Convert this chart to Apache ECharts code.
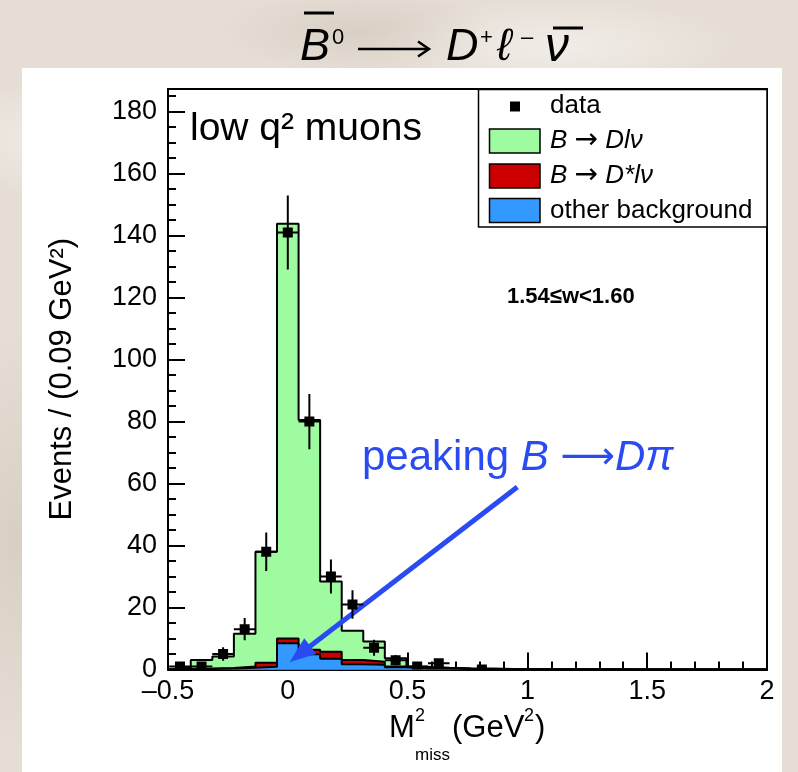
<!DOCTYPE html>
<html>
<head>
<meta charset="utf-8">
<script src="https://cdn.jsdelivr.net/npm/echarts@6/dist/echarts.min.js"></script>
<style>
  html, body { margin: 0; padding: 0; width: 798px; height: 772px; overflow: hidden; }
  body {
    position: relative;
    background:
      radial-gradient(ellipse 220px 90px at 12% 18%, rgba(255,255,255,0.55), rgba(255,255,255,0) 70%),
      radial-gradient(ellipse 260px 70px at 70% 6%, rgba(255,255,255,0.45), rgba(255,255,255,0) 70%),
      radial-gradient(ellipse 120px 300px at 2% 70%, rgba(190,178,165,0.35), rgba(190,178,165,0) 70%),
      radial-gradient(ellipse 200px 60px at 45% 4%, rgba(185,172,160,0.3), rgba(185,172,160,0) 70%),
      #e6ded5;
  }
  #panel { position: absolute; left: 22px; top: 68px; width: 760px; height: 704px; background: #ffffff; }
  #chart { position: absolute; left: 0; top: 0; width: 798px; height: 772px; }
</style>
</head>
<body>
<div id="panel"></div>
<div id="chart"></div>
<script>
// Histogram bins of M_miss^2 (GeV^2), width 0.09
const binCenters = [-0.45, -0.36, -0.27, -0.18, -0.09, 0.00, 0.09, 0.18, 0.27, 0.36,
                    0.45, 0.54, 0.63, 0.72, 0.81, 0.90, 0.99, 1.08, 1.17, 1.26,
                    1.35, 1.44, 1.53, 1.62, 1.71, 1.80, 1.89, 1.98];
const binWidth = 0.09;

// Observed events and their uncertainties (null = no entry drawn)
const dataCounts = [1, 1, 5, 13, 38, 141, 80, 30, 21, 7,
                    3, 1, 2, null, 0, null, null, null, null, null,
                    null, null, null, null, null, null, null, null];
const dataErrors = [1, 1, 2.2, 3.6, 6.2, 11.9, 8.9, 5.5, 4.6, 2.6,
                    1.7, 1, 1.4, null, 0, null, null, null, null, null,
                    null, null, null, null, null, null, null, null];

// Fitted components (stacked)
const sigDlnu   = [0.4, 2.8, 3.7, 10.5, 35.8, 133.8, 74.1, 22.7, 9.4, 6.5,
                   2.6, 0.4, 0.2, 0.2, 0.2, 0.15, 0.1, 0.1, 0.05, 0.05,
                   0.05, 0, 0, 0, 0, 0, 0, 0];
const bkgDstar  = [0.1, 0.1, 0.2, 0.4, 1.3, 1.5, 1.5, 2.2, 1.4, 1.0,
                   0.3, 0.2, 0.1, 0.05, 0.05, 0, 0, 0, 0, 0,
                   0, 0, 0, 0, 0, 0, 0, 0];
const bkgOther  = [0.1, 0.2, 0.3, 0.6, 0.9, 8.5, 4.9, 3.5, 1.7, 1.5,
                   0.7, 0.3, 0.3, 0.15, 0.1, 0.05, 0.05, 0, 0, 0,
                   0, 0, 0, 0, 0, 0, 0, 0];

// Axis ranges and ticks
const xRange = [-0.5, 2];
const xTickStep = 0.5;
const yRange = [0, 187.3];
const yTickStep = 20;
const yMinorStep = 5;

// Annotation arrow (data coordinates): tail and head
const arrowFrom = [0.958, 58.9];
const arrowTo = [0.051, 5.0];

const C_GREEN = '#9ffb9f', C_RED = '#cc0000', C_BLUE = '#3399ff', C_NOTE = '#2a4bf2';
const FONT = '"Liberation Sans", Arial, Helvetica, sans-serif';
const ARROW_FONT = '"DejaVu Sans", sans-serif';

const redTop = bkgOther.map((v, i) => v + bkgDstar[i]);
const total = redTop.map((v, i) => v + sigDlnu[i]);

// Step outline of a histogram: points at the left edge of each bin, closed to zero
function stepPoints(values) {
  const first = binCenters[0] - binWidth / 2;
  const last = binCenters[binCenters.length - 1] + binWidth / 2;
  const pts = [[first, 0]];
  values.forEach((v, i) => pts.push([binCenters[i] - binWidth / 2, v]));
  pts.push([last, values[values.length - 1]]);
  pts.push([last, 0]);
  return pts;
}

function histSeries(name, values, color, z) {
  return {
    name, type: 'line', step: 'end', data: stepPoints(values),
    symbol: 'none', silent: true, clip: true, z,
    lineStyle: { color: '#000', width: 2 },
    areaStyle: { color, opacity: 1 },
    animation: false
  };
}

const points = [];
binCenters.forEach((c, i) => {
  if (dataCounts[i] !== null) points.push([c, dataCounts[i], dataErrors[i]]);
});

const chart = echarts.init(document.getElementById('chart'), null, { renderer: 'canvas' });

function txt(text, x, y, size, style) {
  return {
    type: 'text', x, y, z: 100,
    style: Object.assign({ text, fontSize: size, fontFamily: FONT, fill: '#000',
      align: 'left', verticalAlign: 'middle' }, style || {})
  };
}

const legendRows = [
  { label: '{i|B }{a|→}{i| Dlν}', color: C_GREEN, y: 141 },
  { label: '{i|B }{a|→}{i| D*lν}', color: C_RED, y: 176 },
  { label: '{n|other background}', color: C_BLUE, y: 210.5 }
];
const richLegend = {
  i: { fontSize: 26, fontFamily: FONT, fontStyle: 'italic', fill: '#000' },
  n: { fontSize: 26, fontFamily: FONT, fill: '#000' },
  a: { fontSize: 28, fontFamily: ARROW_FONT, fill: '#000' }
};

const graphics = [
  // Title: B-bar0 -> D+ l- nu-bar
  { type: 'line', z: 100, shape: { x1: 304, y1: 13, x2: 334, y2: 13 }, style: { stroke: '#000', lineWidth: 3 } },
  txt('B', 300, 47.5, 45, { fontStyle: 'italic' }),
  txt('0', 332, 38, 22),
  { type: 'line', z: 100, shape: { x1: 358, y1: 49, x2: 428, y2: 49 }, style: { stroke: '#000', lineWidth: 2.5 } },
  { type: 'polyline', z: 100, shape: { points: [[418, 41.5], [429, 49], [418, 56.5]] }, style: { stroke: '#000', lineWidth: 2.5, fill: null } },
  txt('D', 446, 47.5, 45, { fontStyle: 'italic' }),
  txt('+', 480, 38, 22),
  txt('ℓ', 497, 47.5, 45, { fontStyle: 'italic' }),
  txt('–', 521, 38, 22),
  txt('ν', 545, 47.5, 48, { fontStyle: 'italic' }),
  { type: 'line', z: 100, shape: { x1: 553, y1: 28, x2: 583, y2: 28 }, style: { stroke: '#000', lineWidth: 3 } },

  // Plot labels
  txt('low q² muons', 190, 129.5, 39),
  txt('1.54≤w<1.60', 507, 296.5, 22, { fontWeight: 'bold' }),
  {
    type: 'text', x: 362, y: 458, z: 100,
    style: {
      text: '{n|peaking }{i|B }{a|⟶}{i|Dπ}', align: 'left', verticalAlign: 'middle',
      rich: {
        n: { fontSize: 42, fontFamily: FONT, fill: C_NOTE },
        i: { fontSize: 42, fontFamily: FONT, fontStyle: 'italic', fill: C_NOTE },
        a: { fontSize: 38, fontFamily: ARROW_FONT, fill: C_NOTE }
      }
    }
  },

  // Legend box
  { type: 'rect', z: 100, shape: { x: 478.5, y: 89.5, width: 288.5, height: 137.5 }, style: { fill: '#fff', stroke: '#000', lineWidth: 1.5 } },
  { type: 'rect', z: 101, shape: { x: 510, y: 101.5, width: 10, height: 10 }, style: { fill: '#000' } },
  Object.assign(txt('data', 550, 106, 26), { z: 101 }),

  // X axis title: M^2_miss (GeV^2)
  txt('M', 389, 728, 31),
  txt('2', 415, 716, 18),
  txt('miss', 415, 755, 17),
  txt('(GeV', 452, 728, 31),
  txt('2', 524, 716, 18),
  txt(')', 535, 728, 31)
];

legendRows.forEach(r => {
  graphics.push({ type: 'rect', z: 101, shape: { x: 489.5, y: r.y - 12, width: 50.5, height: 24 },
    style: { fill: r.color, stroke: '#000', lineWidth: 1.5 } });
  graphics.push({ type: 'text', x: 550, y: r.y, z: 101,
    style: { text: r.label, align: 'left', verticalAlign: 'middle', rich: richLegend } });
});

const option = {
  animation: false,
  backgroundColor: 'transparent',
  grid: {
    left: 168, top: 89, right: 31, bottom: 102.5,
    show: true, borderColor: '#000', borderWidth: 2,
    backgroundColor: 'transparent', containLabel: false, outerBoundsMode: 'none'
  },
  xAxis: {
    type: 'value', min: xRange[0], max: xRange[1], interval: xTickStep,
    axisLine: { show: true, onZero: false, lineStyle: { color: '#000', width: 2 } },
    axisTick: { show: true, inside: true, length: 17, lineStyle: { color: '#000', width: 2 } },
    minorTick: { show: true, splitNumber: 5, length: 8, lineStyle: { color: '#000', width: 2 } },
    splitLine: { show: false },
    axisLabel: {
      color: '#000', fontSize: 27, fontFamily: FONT, margin: 9,
      formatter: v => (v < 0 ? '\u2013' + String(-v) : String(v))
    }
  },
  yAxis: [
    {
      type: 'value', min: yRange[0], max: yRange[1], interval: yTickStep,
      axisLine: { show: true, onZero: false, lineStyle: { color: '#000', width: 2 } },
      axisTick: { show: true, inside: true, length: 17, lineStyle: { color: '#000', width: 2 } },
      splitLine: { show: false },
      axisLabel: { color: '#000', fontSize: 27, fontFamily: FONT, margin: 11, showMaxLabel: false },
      name: 'Events / (0.09 GeV²)', nameLocation: 'middle', nameRotate: 90, nameGap: 90,
      nameTextStyle: { color: '#000', fontSize: 31, fontFamily: FONT }
    },
    {
      type: 'value', min: yRange[0], max: yRange[1], interval: yMinorStep,
      position: 'left',
      axisLine: { show: false, onZero: false },
      axisTick: { show: true, inside: true, length: 8, lineStyle: { color: '#000', width: 2 } },
      splitLine: { show: false },
      axisLabel: { show: false }
    }
  ],
  series: [
    histSeries('B → Dlν', total, C_GREEN, 2),
    histSeries('B → D*lν', redTop, C_RED, 3),
    histSeries('other background', bkgOther, C_BLUE, 4),
    {
      name: 'data', type: 'custom', data: points, clip: true, z: 10, silent: true,
      renderItem(params, api) {
        const x = api.value(0), y = api.value(1), e = api.value(2);
        const p = api.coord([x, y]);
        const top = api.coord([x, y + e]);
        const bot = api.coord([x, Math.max(0, y - e)]);
        const hw = api.size([binWidth, 0])[0] / 2;
        return {
          type: 'group', children: [
            { type: 'line', shape: { x1: p[0], y1: top[1], x2: p[0], y2: bot[1] }, style: { stroke: '#000', lineWidth: 2 } },
            { type: 'line', shape: { x1: p[0] - hw, y1: p[1], x2: p[0] + hw, y2: p[1] }, style: { stroke: '#000', lineWidth: 2 } },
            { type: 'rect', shape: { x: p[0] - 5, y: p[1] - 5, width: 10, height: 10 }, style: { fill: '#000' } }
          ]
        };
      }
    },
    {
      name: 'annotation', type: 'line', data: [], silent: true, z: 20,
      markLine: {
        silent: true, animation: false,
        symbol: ['none', 'triangle'], symbolSize: [20, 26],
        label: { show: false },
        lineStyle: { color: C_NOTE, width: 5, type: 'solid' },
        data: [[{ coord: arrowFrom }, { coord: arrowTo }]]
      }
    }
  ],
  graphic: graphics
};

chart.setOption(option);
</script>
</body>
</html>
